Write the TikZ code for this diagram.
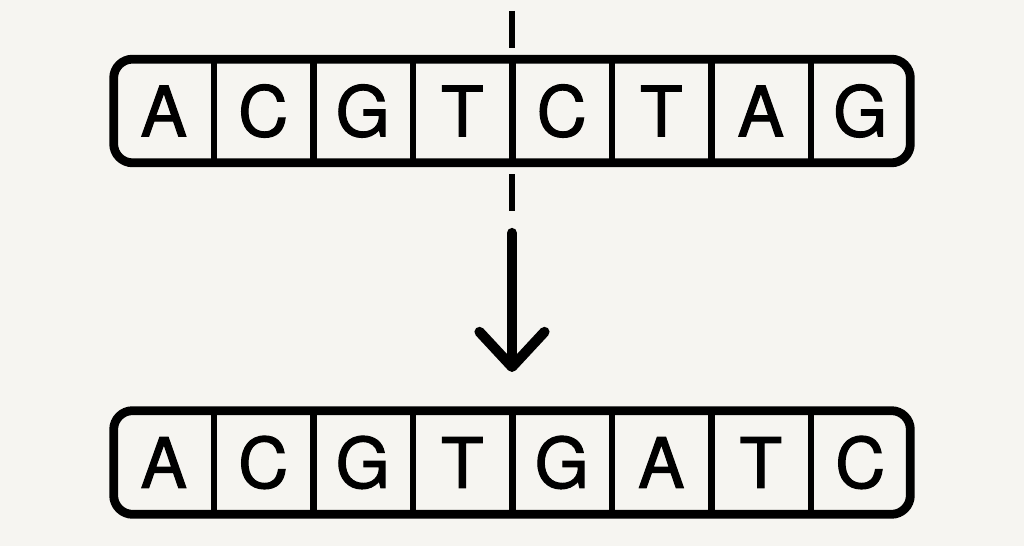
\documentclass[tikz,border=0pt]{standalone}
\usepackage{fontspec}
\newfontfamily\basefont[BoldFont={TeX Gyre Heros},BoldFeatures={FakeBold=1.6}]{TeX Gyre Heros}
\usetikzlibrary{arrows.meta,calc}
\definecolor{paper}{RGB}{246,245,241}

\begin{document}
\begin{tikzpicture}[x=0.02cm,y=0.02cm,
    base/.style={minimum width=1.99cm,minimum height=2.06cm,inner sep=0pt,
      font=\basefont\bfseries\fontsize{39.5}{40}\selectfont},
    frame/.style={line width=5pt,rounded corners=0.38cm},
    divider/.style={line width=3.6pt},
    cutline/.style={line width=3.4pt,dash pattern=on 21 off 10},
    bigarrow/.style={line width=5.8pt,line cap=round,
      -{Straight Barb[length=0.7cm,width=1.3cm,line cap=round,line join=round]}}]

    \fill[paper] (0,0) rectangle (1024,546);

    % cut position
    \coordinate (cuttop) at (512,535);
    \coordinate (cutbot) at (512,334);
    \draw[cutline] (cuttop) -- (cutbot);

    % original sequence
    \foreach \b [count=\i] in {A,C,G,T,C,T,A,G}
      \node[base] (t\i) at ({163.75+99.5*(\i-1)},435) {\b};
    \foreach \i in {1,...,7}
      \draw[divider] (t\i.north east) -- (t\i.south east);
    \draw[frame] (t1.north west) rectangle (t8.south east);

    % inverted sequence
    \foreach \b [count=\i] in {A,C,G,T,G,A,T,C}
      \node[base] (s\i) at ({163.75+99.5*(\i-1)},83.5) {\b};
    \foreach \i in {1,...,7}
      \draw[divider] (s\i.north east) -- (s\i.south east);
    \draw[frame] (s1.north west) rectangle (s8.south east);

    \coordinate (arrowtop) at (512,313);
    \coordinate (arrowbot) at (512,174);
    \draw[bigarrow] (arrowtop) -- (arrowbot);
\end{tikzpicture}
\end{document}
